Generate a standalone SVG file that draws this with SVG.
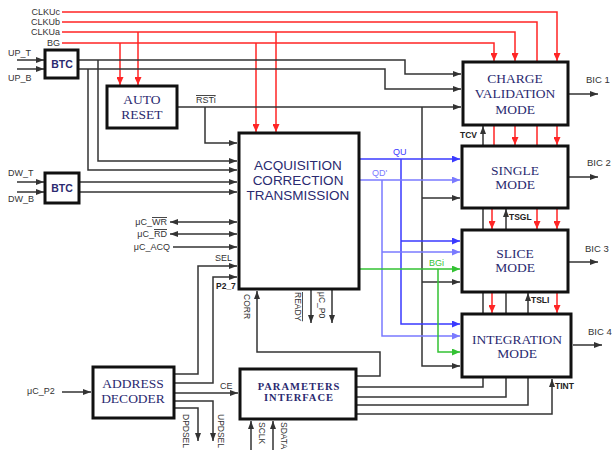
<svg xmlns="http://www.w3.org/2000/svg" width="613" height="452" viewBox="0 0 613 452">
<style>
.k{fill:none;stroke:#333;stroke-width:1.5}
.r{fill:none;stroke:#ff2525;stroke-width:1.5}
.b{fill:none;stroke:#3a3aff;stroke-width:1.5}
.lb{fill:none;stroke:#7a7aff;stroke-width:1.5}
.g{fill:none;stroke:#33c233;stroke-width:1.5}
.box{fill:#fff;stroke:#111;stroke-width:3}
.lbl{font-family:"Liberation Sans",Arial,sans-serif;font-size:9px;fill:#333}
.sm{font-family:"Liberation Sans",Arial,sans-serif;font-size:8.5px;fill:#333}
.bd{font-family:"Liberation Sans",Arial,sans-serif;font-size:8.5px;font-weight:bold;fill:#222}
.bic{font-family:"Liberation Sans",Arial,sans-serif;font-size:9.5px;fill:#333}
.ser{font-family:"Liberation Serif","Times New Roman",serif;font-size:13.5px;fill:#2a2a70;text-anchor:middle}
.act{font-family:"Liberation Sans",Arial,sans-serif;font-size:13.5px;fill:#2a2a70;text-anchor:middle}
.pi{font-family:"Liberation Serif","Times New Roman",serif;font-size:10.5px;font-weight:bold;letter-spacing:1px;fill:#2a2a70;text-anchor:middle}
.btc{font-family:"Liberation Sans",Arial,sans-serif;font-size:10.5px;font-weight:bold;fill:#2a2a70;text-anchor:middle}
</style>
<defs>
<marker id="ak" viewBox="0 0 8 6" refX="8" refY="3" markerWidth="8" markerHeight="6" orient="auto-start-reverse" markerUnits="userSpaceOnUse"><path d="M0,0 L8,3 L0,6 z" fill="#333"/></marker>
<marker id="ar" viewBox="0 0 8 7" refX="8" refY="3.5" markerWidth="8" markerHeight="7" orient="auto" markerUnits="userSpaceOnUse"><path d="M0,0 L8,3.5 L0,7 z" fill="#ff2525"/></marker>
<marker id="ab" viewBox="0 0 8 7" refX="8" refY="3.5" markerWidth="8" markerHeight="7" orient="auto" markerUnits="userSpaceOnUse"><path d="M0,0 L8,3.5 L0,7 z" fill="#3a3aff"/></marker>
<marker id="alb" viewBox="0 0 8 7" refX="8" refY="3.5" markerWidth="8" markerHeight="7" orient="auto" markerUnits="userSpaceOnUse"><path d="M0,0 L8,3.5 L0,7 z" fill="#7a7aff"/></marker>
<marker id="ag" viewBox="0 0 8 7" refX="8" refY="3.5" markerWidth="8" markerHeight="7" orient="auto" markerUnits="userSpaceOnUse"><path d="M0,0 L8,3.5 L0,7 z" fill="#33c233"/></marker>
</defs>
<rect width="613" height="452" fill="#fff"/>

<g id="connectors">
<!-- red clock / BG lines -->
<path class="r" d="M62,12 H557 V61" marker-end="url(#ar)"/>
<path class="r" d="M62,22 H537 V62"/>
<path class="r" d="M62,32 H515 V61" marker-end="url(#ar)"/>
<path class="r" d="M62,43 H494 V61" marker-end="url(#ar)"/>
<path class="r" d="M120,43 V85" marker-end="url(#ar)"/>
<path class="r" d="M138,32 V85" marker-end="url(#ar)"/>
<path class="r" d="M256,43 V132" marker-end="url(#ar)"/>
<path class="r" d="M276,32 V132" marker-end="url(#ar)"/>
<path class="r" d="M494,126 V146"/>
<path class="r" d="M515,126 V145" marker-end="url(#ar)"/>
<path class="r" d="M537,126 V146"/>
<path class="r" d="M557,126 V145" marker-end="url(#ar)"/>
<path class="r" d="M492,209 V229" marker-end="url(#ar)"/>
<path class="r" d="M537,209 V229" marker-end="url(#ar)"/>
<path class="r" d="M557,209 V229" marker-end="url(#ar)"/>
<path class="r" d="M492,293 V313" marker-end="url(#ar)"/>
<path class="r" d="M557,293 V313" marker-end="url(#ar)"/>

<!-- black inputs -->
<path class="k" d="M17,60 H44" marker-end="url(#ak)"/>
<path class="k" d="M17,69 H44" marker-end="url(#ak)"/>
<path class="k" d="M17,182 H44" marker-end="url(#ak)"/>
<path class="k" d="M17,192 H44" marker-end="url(#ak)"/>
<path class="k" d="M78,60 H405 V74 H461" marker-end="url(#ak)"/>
<path class="k" d="M78,69 H385 V89 H461" marker-end="url(#ak)"/>
<path class="k" d="M98,60 V161 H237" marker-end="url(#ak)"/>
<path class="k" d="M88,69 V170 H237" marker-end="url(#ak)"/>
<path class="k" d="M79,182 H237" marker-end="url(#ak)"/>
<path class="k" d="M79,192 H237" marker-end="url(#ak)"/>
<path class="k" d="M177,107 H461" marker-end="url(#ak)"/>
<path class="k" d="M205,107 V143 H237" marker-end="url(#ak)"/>
<path class="k" d="M422,107 V366 H460" marker-end="url(#ak)"/>
<path class="k" d="M422,198 H460" marker-end="url(#ak)"/>
<path class="k" d="M422,282 H460" marker-end="url(#ak)"/>
<path class="k" d="M170,222 H237" marker-start="url(#ak)" marker-end="url(#ak)"/>
<path class="k" d="M170,234 H237" marker-start="url(#ak)" marker-end="url(#ak)"/>
<path class="k" d="M173,247 H237" marker-end="url(#ak)"/>
<path class="k" d="M174,374 H198 V266 H237" marker-end="url(#ak)"/>
<path class="k" d="M174,383 H213 V277 H237" marker-end="url(#ak)"/>
<path class="k" d="M174,393 H238" marker-end="url(#ak)"/>
<path class="k" d="M174,401 H213 V441" marker-end="url(#ak)"/>
<path class="k" d="M174,408 H198 V441" marker-end="url(#ak)"/>
<path class="k" d="M62,392 H91" marker-end="url(#ak)"/>
<path class="k" d="M251,450 V421" marker-end="url(#ak)"/>
<path class="k" d="M273,450 V421" marker-end="url(#ak)"/>
<path class="k" d="M311,290 V323" marker-end="url(#ak)"/>
<path class="k" d="M332,290 V323" marker-end="url(#ak)"/>
<path class="k" d="M356,376 H380 V352 H257 V291" marker-end="url(#ak)"/>
<path class="k" d="M356,387 H483 V378"/>
<path class="k" d="M356,397 H506 V378"/>
<path class="k" d="M356,405 H528 V378"/>
<path class="k" d="M356,414 H552 V379" marker-end="url(#ak)"/>
<path class="k" d="M483,314 V293"/>
<path class="k" d="M506,314 V293"/>
<path class="k" d="M528,314 V293" marker-end="url(#ak)"/>
<path class="k" d="M483,230 V209"/>
<path class="k" d="M506,230 V209" marker-end="url(#ak)"/>
<path class="k" d="M483,146 V126" marker-end="url(#ak)"/>
<path class="k" d="M569,94 H598" marker-end="url(#ak)"/>
<path class="k" d="M569,177 H598" marker-end="url(#ak)"/>
<path class="k" d="M569,262 H598" marker-end="url(#ak)"/>
<path class="k" d="M573,345 H602" marker-end="url(#ak)"/>

<!-- colored data lines -->
<path class="b" d="M359,159 H460" marker-end="url(#ab)"/>
<path class="b" d="M401,159 V324 H460" marker-end="url(#ab)"/>
<path class="b" d="M401,241 H460" marker-end="url(#ab)"/>
<path class="lb" d="M359,180 H460" marker-end="url(#alb)"/>
<path class="lb" d="M382,180 V336 H460" marker-end="url(#alb)"/>
<path class="lb" d="M382,252 H460" marker-end="url(#alb)"/>
<path class="g" d="M359,269 H460" marker-end="url(#ag)"/>
<path class="g" d="M438,269 V352 H460" marker-end="url(#ag)"/>
</g>

<g id="btc-top"><rect class="box" x="45" y="50" width="33" height="28"/><text class="btc" x="62" y="68">BTC</text></g>
<g id="btc-bottom"><rect class="box" x="45" y="173" width="34" height="30"/><text class="btc" x="62" y="192">BTC</text></g>
<g id="auto-reset"><rect class="box" x="107" y="86" width="70" height="42"/><text class="ser" x="142" y="104">AUTO</text><text class="ser" x="142" y="119">RESET</text></g>
<g id="act"><rect class="box" x="239" y="133" width="120" height="156"/><text class="act" x="298" y="170">ACQUISITION</text><text class="act" x="298" y="185">CORRECTION</text><text class="act" x="298" y="200">TRANSMISSION</text></g>
<g id="cv"><rect class="box" x="463" y="62" width="105" height="63"/><text class="ser" x="515" y="83">CHARGE</text><text class="ser" x="515" y="98">VALIDATION</text><text class="ser" x="515" y="114">MODE</text></g>
<g id="single"><rect class="box" x="462" y="146" width="106" height="62"/><text class="ser" x="515" y="175">SINGLE</text><text class="ser" x="515" y="189">MODE</text></g>
<g id="slice"><rect class="box" x="462" y="230" width="106" height="62"/><text class="ser" x="515" y="258">SLICE</text><text class="ser" x="515" y="272">MODE</text></g>
<g id="integration"><rect class="box" x="462" y="314" width="109" height="63"/><text class="ser" x="517" y="344">INTEGRATION</text><text class="ser" x="517" y="358">MODE</text></g>
<g id="address-decoder"><rect class="box" x="93" y="367" width="81" height="51"/><text class="ser" x="133" y="388">ADDRESS</text><text class="ser" x="133" y="403">DECODER</text></g>
<g id="parameters-interface"><rect class="box" x="240" y="369" width="116" height="50"/><text class="pi" x="299" y="390">PARAMETERS</text><text class="pi" x="299" y="401">INTERFACE</text></g>

<g id="labels">
<text class="lbl" x="60" y="15" text-anchor="end">CLKUc</text>
<text class="lbl" x="60" y="25" text-anchor="end">CLKUb</text>
<text class="lbl" x="60" y="35" text-anchor="end">CLKUa</text>
<text class="lbl" x="60" y="46" text-anchor="end">BG</text>
<text class="lbl" x="8" y="56">UP_T</text>
<text class="lbl" x="8" y="81">UP_B</text>
<text class="lbl" x="8" y="176">DW_T</text>
<text class="lbl" x="8" y="202">DW_B</text>
<text class="lbl" x="196" y="103" style="text-decoration:overline">RSTi</text>
<text class="lbl" x="167" y="225" text-anchor="end">μC_<tspan style="text-decoration:overline">WR</tspan></text>
<text class="lbl" x="167" y="237" text-anchor="end">μC_<tspan style="text-decoration:overline">RD</tspan></text>
<text class="lbl" x="170" y="250" text-anchor="end">μC_ACQ</text>
<text class="lbl" x="215" y="261">SEL</text>
<text class="bd" x="216" y="289">P2_7</text>
<text class="lbl" x="220" y="389">CE</text>
<text class="lbl" x="27" y="394">μC_P2</text>
<text class="sm" transform="translate(244,294) rotate(90)">CORR</text>
<text class="sm" transform="translate(295,292) rotate(90)" style="text-decoration:overline">READY</text>
<text class="sm" transform="translate(319,292) rotate(90)">μC_P0</text>
<text class="sm" transform="translate(183,414) rotate(90)">DPDSEL</text>
<text class="sm" transform="translate(218,414) rotate(90)">UPDSEL</text>
<text class="sm" transform="translate(259,422) rotate(90)">SCLK</text>
<text class="sm" transform="translate(281,422) rotate(90)">SDATA</text>
<text class="bd" x="460" y="138">TCV</text>
<text class="bd" x="509" y="220">TSGL</text>
<text class="bd" x="531" y="303">TSLI</text>
<text class="bd" x="555" y="389">TINT</text>
<text class="bic" x="586" y="83">BIC 1</text>
<text class="bic" x="587" y="166">BIC 2</text>
<text class="bic" x="585" y="252">BIC 3</text>
<text class="bic" x="588" y="335">BIC 4</text>
<text class="lbl" x="393" y="155" fill="#3a3aff" style="fill:#3a3aff">QU</text>
<text class="lbl" x="372" y="176" style="fill:#7a7aff">QD'</text>
<text class="lbl" x="429" y="266" style="fill:#33c233">BGi</text>
</g>
</svg>
